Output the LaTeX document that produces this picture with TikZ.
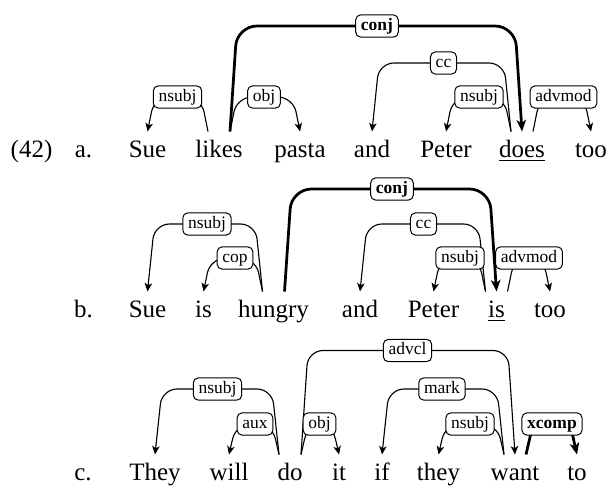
\documentclass[tikz,border=0pt]{standalone}
\usepackage{fontspec}
\setmainfont{Liberation Serif}
\usetikzlibrary{arrows.meta}
\pgfdeclarelayer{background}
\pgfsetlayers{background,main}
\tikzset{
  word/.style={anchor=base, inner sep=0pt, inner ysep=3pt, text height=7pt, text depth=2pt, font=\fontsize{10}{12}\selectfont},
  lab/.style={draw, fill=white, rounded corners=2pt, inner xsep=2.1pt, inner ysep=1.2pt, text height=5pt, text depth=1.5pt, font=\scriptsize, line width=0.4pt},
  blab/.style={lab, font=\scriptsize\bfseries},
  dep/.style={line width=0.45pt, rounded corners=6pt, -{Stealth[length=3.4pt,width=3pt,inset=0.9pt]}},
  bolddep/.style={line width=1.1pt, rounded corners=8pt, -{Stealth[length=4.6pt,width=3.8pt,inset=1.2pt]}}
}
\newcommand{\depR}[4][]{\draw[dep,#1] ([xshift=4.4pt]#2.north) -- ([xshift=7.2pt]#2.north |- #3) -- ([xshift=-2.8pt]#4.north |- #3) -- (#4.north);}
\newcommand{\depL}[4][]{\draw[dep,#1] ([xshift=-4.4pt]#2.north) -- ([xshift=-7.2pt]#2.north |- #3) -- ([xshift=2.8pt]#4.north |- #3) -- (#4.north);}
\begin{document}
\begin{tikzpicture}[x=0.4pt,y=-0.4pt]
\useasboundingbox (0,0) rectangle (611,486);
% ---------- row a ----------
\node[word] (ex) at (31.5,157) {(42)};
\node[word] (la) at (83.5,157) {a.};
\node[word] (aSue) at (147.5,157) {Sue};
\node[word] (aLikes) at (219,157) {likes};
\node[word] (aPasta) at (300,157) {pasta};
\node[word] (aAnd) at (372,157) {and};
\node[word] (aPeter) at (446,157) {Peter};
\node[word] (aDoes) at (522,157) {\underline{does}};
\node[word] (aToo) at (591,157) {too};
\node[blab] (aConj) at (377,26) {conj};
\node[lab] (aCc) at (443.5,63) {cc};
\node[lab] (aNs1) at (177.5,97) {nsubj};
\node[lab] (aObj) at (264,97) {obj};
\node[lab] (aNs2) at (479,97) {nsubj};
\node[lab] (aAdv) at (563.5,97) {advmod};
% ---------- row b ----------
\node[word] (lb) at (83.5,317) {b.};
\node[word] (bSue) at (147.5,317) {Sue};
\node[word] (bIs) at (203.5,317) {is};
\node[word] (bHungry) at (273.5,317) {hungry};
\node[word] (bAnd) at (360,317) {and};
\node[word] (bPeter) at (433.5,317) {Peter};
\node[word] (bIs2) at (496.5,317) {\underline{is}};
\node[word] (bToo) at (550,317) {too};
\node[blab] (bConj) at (392,189) {conj};
\node[lab] (bNs1) at (207,224) {nsubj};
\node[lab] (bCc) at (423.5,224) {cc};
\node[lab] (bCop) at (235,258) {cop};
\node[lab] (bNs2) at (460,258) {nsubj};
\node[lab] (bAdv) at (529,258) {advmod};
% ---------- row c ----------
\node[word] (lc) at (83,480) {c.};
\node[word] (cThey) at (155,480) {They};
\node[word] (cWill) at (229,480) {will};
\node[word] (cDo) at (290,480) {do};
\node[word] (cIt) at (339,480) {it};
\node[word] (cIf) at (382,480) {if};
\node[word] (cThey2) at (438.5,480) {they};
\node[word] (cWant) at (515,480) {want};
\node[word] (cTo) at (577,480) {to};
\node[lab] (cAdvcl) at (407.5,350.5) {advcl};
\node[lab] (cNs1) at (217.5,389) {nsubj};
\node[lab] (cMark) at (442,389) {mark};
\node[lab] (cAux) at (255,424) {aux};
\node[lab] (cObj) at (319.5,424) {obj};
\node[lab] (cNs2) at (470,424) {nsubj};
\node[blab] (cXcomp) at (552,424) {xcomp};
% ---------- edges ----------
\begin{pgfonlayer}{background}
\depR[bolddep]{aLikes}{aConj}{aDoes}
\depL{aDoes}{aCc}{aAnd}
\depL{aLikes}{aNs1}{aSue}
\depR{aLikes}{aObj}{aPasta}
\depL{aDoes}{aNs2}{aPeter}
\depR{aDoes}{aAdv}{aToo}
\depL{bHungry}{bNs1}{bSue}
\depL{bHungry}{bCop}{bIs}
\depR[bolddep]{bHungry}{bConj}{bIs2}
\depL{bIs2}{bCc}{bAnd}
\depL{bIs2}{bNs2}{bPeter}
\depR{bIs2}{bAdv}{bToo}
\depL{cDo}{cNs1}{cThey}
\depL{cDo}{cAux}{cWill}
\depR{cDo}{cObj}{cIt}
\depR{cDo}{cAdvcl}{cWant}
\depL{cWant}{cMark}{cIf}
\depL{cWant}{cNs2}{cThey2}
\depR[bolddep,rounded corners=3pt]{cWant}{cXcomp}{cTo}
\end{pgfonlayer}
\end{tikzpicture}
\end{document}
